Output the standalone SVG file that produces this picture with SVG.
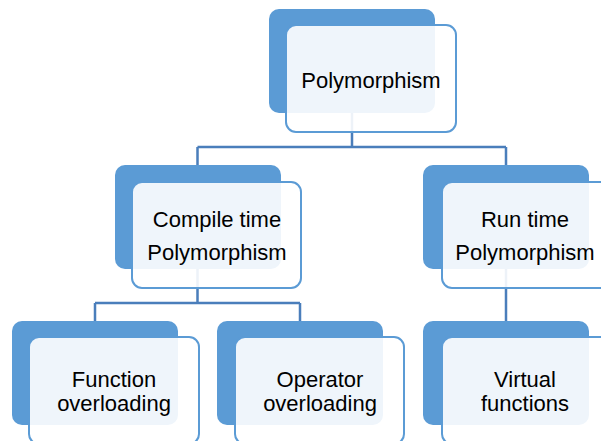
<svg xmlns="http://www.w3.org/2000/svg" width="601" height="441" viewBox="0 0 601 441">
<style>
.back{fill:#5B9BD5;}
.front{fill:#FFFFFF;fill-opacity:0.9;stroke:#5B9BD5;stroke-width:2;}
.conn{fill:none;stroke:#4A7EBB;stroke-width:2.5;}
text{font-family:"Liberation Sans",Arial,sans-serif;font-size:22px;fill:#000000;text-anchor:middle;}
</style>
<rect width="601" height="441" fill="#FFFFFF"/>
<g id="connectors">
<path class="conn" d="M352,113 V147 M197.5,147 H506 M197.5,147 V165 M506,147 V165"/>
<path class="conn" d="M197.5,268 V303 M95,303 H300 M95,303 V321 M300,303 V321"/>
<path class="conn" d="M506,268 V321"/>
</g>
<g id="polymorphism">
<rect class="back" x="269" y="9" width="166" height="104" rx="10"/>
<rect class="front" x="286" y="25" width="170" height="107" rx="10"/>
<text x="371" y="88">Polymorphism</text>
</g>
<g id="compile-time">
<rect class="back" x="115" y="165" width="166" height="104" rx="10"/>
<rect class="front" x="132" y="182" width="169" height="106" rx="10"/>
<text x="217" y="227">Compile time</text>
<text x="217" y="260">Polymorphism</text>
</g>
<g id="run-time">
<rect class="back" x="423" y="165" width="166" height="104" rx="10"/>
<rect class="front" x="442" y="182" width="170" height="106" rx="10"/>
<text x="525" y="227">Run time</text>
<text x="525" y="260">Polymorphism</text>
</g>
<g id="function-overloading">
<rect class="back" x="12" y="321" width="166" height="104" rx="10"/>
<rect class="front" x="29" y="337" width="170" height="107" rx="10"/>
<text x="114" y="387">Function</text>
<text x="114" y="411">overloading</text>
</g>
<g id="operator-overloading">
<rect class="back" x="217" y="321" width="166" height="104" rx="10"/>
<rect class="front" x="235" y="337" width="169" height="107" rx="10"/>
<text x="320" y="387">Operator</text>
<text x="320" y="411">overloading</text>
</g>
<g id="virtual-functions">
<rect class="back" x="423" y="321" width="166" height="104" rx="10"/>
<rect class="front" x="442" y="337" width="170" height="107" rx="10"/>
<text x="525" y="387">Virtual</text>
<text x="525" y="411">functions</text>
</g>
</svg>
